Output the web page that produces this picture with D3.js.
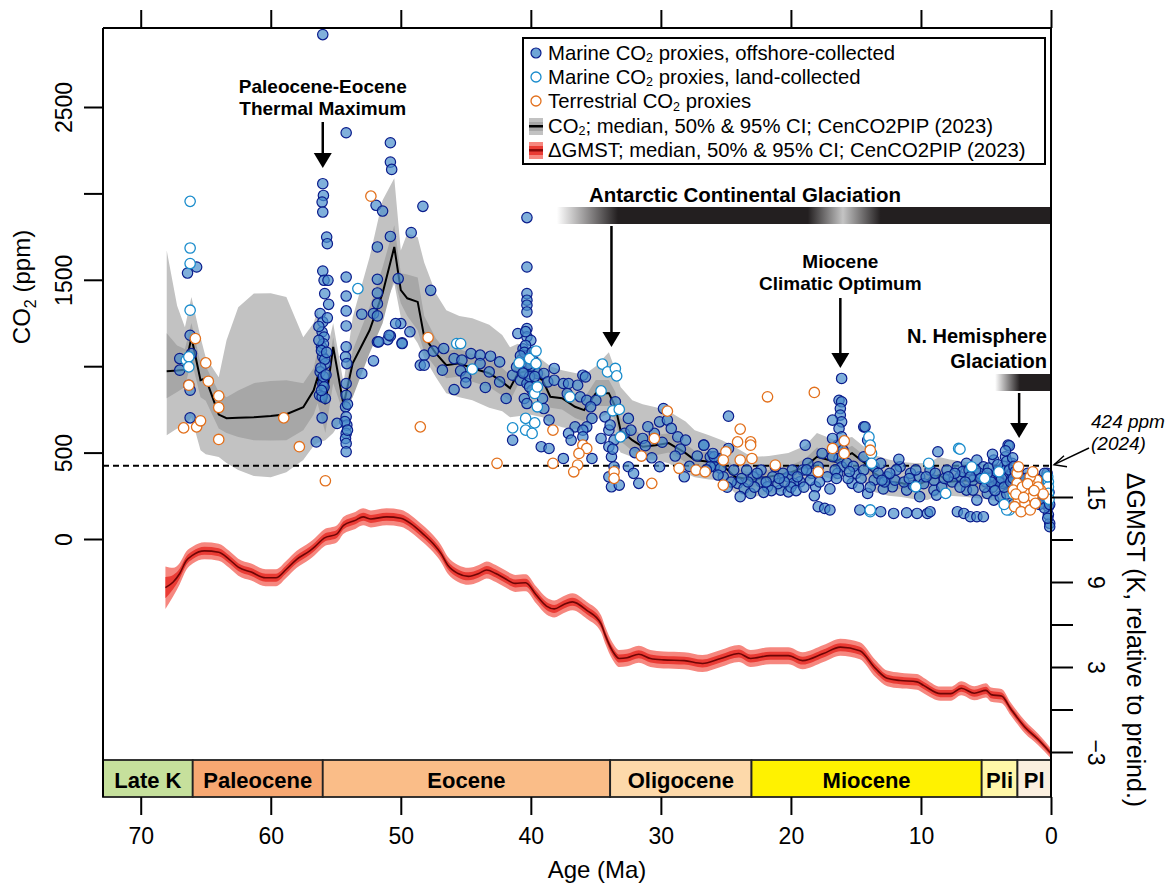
<!DOCTYPE html>
<html>
<head>
<meta charset="utf-8">
<script src="https://cdn.jsdelivr.net/npm/d3@7"></script>
<style>
  body { margin: 0; background: #fff; }
  text { font-family: "Liberation Sans", Arial, Helvetica, sans-serif; }
</style>
</head>
<body>
<script>
// CenCO2PIP CO2 curve: age (Ma), median and CI bounds (ppm)
const co2Age = [68.0,67.2,66.6,66.1,65.4,65.0,64.0,63.4,62.5,61.3,
    60.0,58.8,57.5,56.7,56.4,55.8,55.2,54.4,53.7,52.4,
    51.4,50.5,50.0,49.5,48.7,48.2,47.3,46.5,45.5,44.5,
    43.2,42.2,41.6,41.0,40.1,39.1,38.5,37.6,36.6,35.9,
    35.0,34.0,33.5,33.1,32.2,31.4,30.4,29.4,28.1,27.4,
    26.3,25.3,24.3,23.0,21.7,20.2,18.9,18.0,16.6,15.3,
    14.3,13.6,12.5,11.5,10.5,9.5,8.6,7.8,6.5,5.0,
    3.5,2.0,1.0,0.05];
const co2Med = [971,975,980,1168,919,930,720,699,702,705,
    712,722,763,861,936,780,1112,775,1017,1208,
    1422,1690,1440,1393,1372,1170,1074,1006,1017,988,
    959,909,873,959,977,919,823,815,765,746,
    844,844,765,630,572,534,543,555,497,457,
    447,430,360,341,360,380,418,476,447,497,
    439,381,331,324,302,341,370,331,340,330,
    300,270,260,280];
const co2Hi95 = [1670,1350,1225,1400,1168,1050,936,1150,1341,1420,
    1422,1400,1168,1250,1324,1052,1249,902,1283,1630,
    1960,2087,1670,1769,1746,1600,1420,1324,1290,1277,
    1240,1180,1110,1130,1100,1035,1000,977,960,950,
    1000,1081,977,880,803,780,763,740,680,630,
    600,572,532,474,480,497,540,613,572,590,
    530,486,460,445,440,439,474,460,445,430,
    410,390,380,400];
const co2Lo95 = [601,640,647,705,514,490,474,440,399,365,
    358,387,457,540,555,572,613,705,860,1092,
    1324,1480,1283,1226,1133,1050,936,844,820,803,
    760,740,705,710,720,705,670,647,635,630,
    690,728,555,500,474,460,457,439,380,358,
    345,341,266,243,260,283,320,370,341,387,
    320,272,250,243,230,225,254,250,243,230,
    215,200,195,197];
const co2Hi50 = [1190,1120,1100,1250,1017,1000,850,821,860,902,
    915,919,902,990,1092,902,1168,821,1092,1341,
    1572,1815,1538,1530,1514,1290,1160,1090,1100,1070,
    1040,990,950,1030,1050,990,890,880,830,815,
    920,920,850,700,640,600,605,610,550,510,
    500,490,410,380,400,420,465,530,490,540,
    480,420,365,360,335,380,410,365,375,365,
    335,305,295,315];
const co2Lo50 = [815,850,880,1035,821,800,640,613,590,572,
    570,572,630,720,786,613,902,728,821,1075,
    1249,1514,1364,1290,1208,1080,990,930,940,910,
    880,830,800,890,910,850,760,750,700,680,
    770,770,680,565,510,480,485,500,445,410,
    400,380,315,300,320,340,375,430,405,450,
    395,340,295,290,270,305,330,300,305,295,
    265,235,225,245];

// CenCO2PIP GMST curve: age (Ma), median (K) and CI half widths (K)
const gmstAge = [68.1,67.5,67.0,66.5,66.0,65.1,64.0,63.2,62.5,61.5,
    60.4,59.6,58.8,58.0,57.0,56.6,55.9,54.9,54.4,53.5,
    52.9,52.3,51.1,50.0,49.2,48.3,47.5,46.9,46.4,45.6,
    44.8,44.0,43.4,42.7,42.0,41.2,40.4,39.6,38.8,38.2,
    37.5,36.8,35.7,34.6,34.3,33.7,33.2,32.6,31.7,30.8,
    29.8,28.2,26.8,25.4,24.0,23.1,21.6,20.2,19.1,17.5,
    16.2,14.7,13.5,12.6,11.6,10.3,9.8,8.5,7.7,6.9,
    5.9,5.0,4.6,3.8,3.1,2.0,1.0,0.0];
const gmstMed = [8.6,9.0,9.6,10.5,10.9,11.2,11.1,10.6,10.05,9.7,
    9.3,9.3,9.9,10.6,11.2,11.5,12.1,12.4,13.0,13.35,
    13.6,13.45,13.6,13.5,13.1,12.4,11.7,11.0,10.2,9.6,
    9.4,9.6,9.85,9.6,9.25,8.9,8.95,8.1,7.3,7.1,
    7.4,7.6,7.0,6.05,5.3,4.1,3.6,3.65,3.9,3.6,
    3.5,3.45,3.25,3.6,3.95,3.6,3.8,3.8,3.45,3.95,
    4.4,4.15,2.9,2.2,2.05,1.95,1.7,1.12,1.12,1.5,
    1.15,1.35,1.05,0.95,0.05,-1.25,-2.1,-3.1];
const gmstCi95 = [1.5,1.0,0.75,0.65,0.6,0.6,0.6,0.6,0.6,0.6,
    0.6,0.6,0.6,0.6,0.6,0.6,0.6,0.6,0.6,0.6,
    0.6,0.6,0.6,0.6,0.6,0.6,0.6,0.6,0.6,0.6,
    0.6,0.6,0.6,0.6,0.6,0.6,0.6,0.6,0.6,0.6,
    0.6,0.6,0.6,0.6,0.6,0.6,0.6,0.6,0.6,0.6,
    0.6,0.6,0.6,0.6,0.6,0.6,0.6,0.6,0.6,0.6,
    0.6,0.6,0.6,0.55,0.55,0.55,0.55,0.5,0.5,0.5,
    0.5,0.5,0.5,0.5,0.45,0.45,0.4,0.35];
const gmstCi50 = [0.75,0.5,0.35,0.3,0.28,0.28,0.28,0.28,0.28,0.28,
    0.28,0.28,0.28,0.28,0.28,0.28,0.28,0.28,0.28,0.28,
    0.28,0.28,0.28,0.28,0.28,0.28,0.28,0.28,0.28,0.28,
    0.28,0.28,0.28,0.28,0.28,0.28,0.28,0.28,0.28,0.28,
    0.28,0.28,0.28,0.28,0.28,0.28,0.28,0.28,0.28,0.28,
    0.28,0.28,0.28,0.28,0.28,0.28,0.28,0.28,0.28,0.28,
    0.28,0.28,0.28,0.26,0.26,0.26,0.26,0.25,0.25,0.25,
    0.25,0.25,0.25,0.25,0.22,0.22,0.2,0.18];

// Proxy points: [age Ma, CO2 ppm]
const offshorePts = [
    [67.0,1044],[67.0,977],[66.4,1539],[65.7,1574],[66.2,1179],[66.1,1073],[66.3,890],[66.2,861],[66.2,701],
    [56.0,2919],[56.0,2056],[55.95,1988],[56.05,1950],[56.0,1892],[55.7,1747],[55.65,1709],[56.0,1551],[55.9,1497],
    [55.6,1497],[55.85,1420],[55.55,1358],[56.2,1305],[56.0,1256],[56.05,1198],[55.9,1169],[56.1,1112],[56.0,1054],
    [55.8,1015],[56.2,967],[56.0,900],[55.9,880],[56.25,832],[56.05,823],[55.8,813],[56.05,701],[56.5,562],
    [55.95,1130],[56.1,1090],[55.85,1040],[56.15,990],[55.95,940],[56.1,860],[55.75,950],[55.7,1080],[56.3,1150],
    [56.3,1230],[55.65,1280],
    [54.2,2351],[54.2,1516],[54.2,1406],[54.2,1320],[54.2,1233],[54.2,1112],[54.25,1054],[54.15,1015],[54.2,900],
    [54.2,832],[54.25,765],[54.2,707],[54.15,659],[54.2,611],[54.25,582],[54.2,553],[54.2,505],[54.1,780],[54.3,680],
    [54.1,630],[54.9,669],
    [53.0,1301],[52.1,1305],[51.8,1291],[51.8,1141],[51.0,1154],[50.8,1175],[50.0,1247],[49.3,1199],[49.9,1135],
    [53.0,958],[52.1,1031],[50.2,1507],[49.2,1773],[51.8,1690],[51.8,1503],[51.8,1424],[51.8,1362],[51.9,1931],
    [51.4,1898],[50.8,1751],[50.8,2181],[50.8,2293],[50.7,2139],[48.3,1925],[48.5,1006],[47.7,1439],[50.9,1179],
    [51.7,1141],[50.4,1247],
    [40.3,1860],[40.3,1574],[40.3,1420],[40.3,1382],[40.3,1353],[40.3,1314],[40.3,1218],[40.3,1170],[41.0,1189],
    [40.0,1150],[49.9,1131],[48.2,1064],[48.2,1006],[47.5,1087],[46.7,1102],[45.9,1044],[46.8,977],[45.3,1035],
    [45.4,973],[45.0,938],[45.0,904],[45.9,865],[44.6,1073],[43.9,1064],[43.9,1015],[43.1,1058],[43.2,967],
    [42.4,1025],[43.5,877],[42.4,909],[41.9,813],[41.4,948],[41.1,996],[40.8,919],[40.5,967],[40.3,900],[40.5,813],
    [40.3,784],[39.9,861],[39.5,958],[39.0,958],[38.7,909],[38.2,987],[38.2,919],[39.1,813],[39.0,755],[38.6,688],
    [39.2,534],[38.6,524],[41.4,572],[37.5,900],[37.1,900],[37.2,842],[36.4,890],[36.0,948],[35.8,938],[36.2,823],
    [35.7,803],[35.0,803],[35.4,765],[35.3,698],[35.7,649],[36.6,649],[37.1,611],[36.0,630],[36.9,572],[36.0,591],
    [37.5,466],[35.3,466],[40.6,1100],[40.2,1060],[40.0,1000],[40.7,1040],[40.1,940],[40.4,1120],[39.8,1030],
    [40.5,1080],[40.2,1010],[39.9,1080],[40.6,960],[40.1,880],[39.7,940],[40.4,1200],[40.8,1060],
    [33.5,794],[34.3,707],[34.6,582],[34.0,630],[33.6,572],[34.0,534],[33.8,476],[33.6,418],[34.0,360],[33.8,302],
    [33.2,312],[32.8,611],[32.3,630],[32.5,698],[32.5,418],[32.1,380],[31.7,322],[31.4,582],[30.5,611],[30.1,678],
    [29.8,755],[29.5,688],[28.7,591],[28.1,572],[30.1,418],[28.2,360],[26.7,543],[26.2,476],[25.8,438],[25.5,466],
    [25.9,418],[33.9,660],[33.7,520],
    [16.1,929],[16.3,803],[16.1,794],[16.2,755],[16.2,717],[16.1,678],[16.3,640],[16.1,591],[16.4,543],[16.0,514],
    [16.3,466],[16.1,418],[16.4,380],[15.7,438],[16.8,582],[16.8,476],[24.8,711],[26.7,543],[25.9,476],[26.2,418],
    [25.4,409],[24.8,524],[25.2,360],[24.1,322],[23.6,293],[23.1,264],[23.9,245],[22.9,360],[22.3,331],[21.8,302],
    [21.4,360],[20.8,283],[20.2,360],[19.9,399],[20.2,273],[19.3,331],[18.7,438],[18.9,543],[18.4,380],[18.1,302],
    [17.9,418],[17.6,495],[17.9,187],[17.4,177],[17.0,168],[15.0,380],[15.3,322],[14.4,649],[14.1,572],[14.4,476],
    [13.6,418],[13.1,438],[13.6,341],[14.1,264],[12.6,360],[11.6,418],[10.8,380],[10.1,360],[9.3,399],[8.7,505],
    [8.0,399],[12.2,302],[11.1,283],[10.1,245],[9.0,283],[8.8,254],[14.7,168],[13.1,158],[12.1,148],[11.1,152],
    [10.3,148],[9.5,148],[9.3,158],[7.2,158],[6.7,148],[6.2,129],[5.7,129],[5.2,129],[7.2,418],[7.0,360],
    [6.5,438],[5.7,457],[5.2,418],[4.7,360],[4.4,457],[3.9,399],[3.7,322],[3.3,543],[3.5,476],[3.0,438],
    [2.8,302],[2.5,245],[6.5,283],[6.0,283],[5.7,225],[4.9,264],[4.4,225],[3.9,245],[0.3,380],[0.3,283],
    [0.2,187],[0.1,91],[0.6,206],[0.8,322],[1.0,245],[1.9,302],[1.6,206],[14.4,399],[16.8,688],[26.0,495],
    [24.4,399],[23.4,399],[22.3,399],[21.2,418],[20.6,380],[19.8,322],[19.1,399],[3.2,539],[14.3,649],[11.7,461],
    [0.5,380],[0.1,71],
    [22.8,300],[21.0,320],[20.0,300],[19.5,360],[18.5,340],[17.2,360],[16.6,400],[15.6,350],[14.8,300],[13.9,300],
    [12.9,290],[12.0,340],[11.3,330],[10.6,310],[9.8,320],[9.0,340],[8.4,300],[7.6,330],[7.0,300],[6.8,390],
    [6.0,340],[5.5,380],[5.0,330],[4.5,300],[4.2,390],[3.6,420],[3.3,360],[3.0,380],[2.7,350],[2.2,330],
    [1.8,380],[1.3,300],[1.2,350],[0.7,260],[0.4,240],[0.2,140],[0.9,200],[2.9,200],[3.4,260],[4.0,330],
    [4.8,410],[6.3,400],[7.4,380],[8.2,350],[9.6,360],[10.4,400],[11.9,400],[12.8,330],[13.3,380],[15.2,420],
    [16.5,350],[17.8,330],[18.8,400],[19.6,280],[20.5,330],[21.5,280],[22.1,270],[23.3,330],[24.6,330],[25.6,370],
    [26.5,400],[27.2,480],[27.8,420],[28.5,520],[29.2,640],[30.7,470],[31.2,540],[32.0,500],[31.0,650],[29.9,560],
    [28.9,480],
    [5.8,400],[5.4,350],[5.1,300],[4.9,380],[4.6,330],[4.3,280],[4.1,430],[3.8,350],[3.6,300],[3.4,450],
    [3.2,400],[3.1,330],[2.95,470],[2.85,420],[2.75,390],[2.6,300],[2.4,360],[2.3,270],[2.1,300],[1.95,350],
    [1.7,290],[1.5,330],[1.4,250],[1.1,290],[0.95,340],[0.8,230],[0.6,310],[0.5,180],[0.35,330],[0.25,120],
    [0.15,270],[0.1,200],[6.2,360],[6.6,330],[7.9,360],[8.9,380],[10.9,350],[12.4,380],[13.0,340],[14.6,350],
    [15.5,390],[17.0,290],[18.2,250],[19.0,300],[20.9,350],[21.9,330],[22.6,380],[23.8,350],[24.9,300],[4.5,490],
    [3.5,510],[2.9,350]
];
const landPts = [
    [66.2,1954],[66.2,1684],[66.2,1594],[66.2,1324],[66.5,1035],[66.3,1054],[66.3,996],[53.3,1449],[45.7,1131],
    [45.4,1131],[44.5,983],[40.9,1019],[40.1,1044],[39.6,1088],[39.6,1015],[39.7,842],[39.5,880],[39.5,765],
    [40.4,698],[39.7,672],[41.4,643],[40.4,630],[39.9,611],[37.0,823],[34.6,857],[34.5,1012],[34.1,967],
    [33.5,987],[33.4,944],[33.7,742],[33.2,750],[33.1,591],[14.0,591],[13.9,543],[13.8,495],[13.8,438],
    [13.9,158],[9.4,438],[10.4,302],[8.1,264],[7.1,524],[6.1,418],[5.1,351],[4.0,389],[3.2,168],[0.2,331],
    [0.2,302],[0.2,264],[7.0,520],[13.9,168],[3.4,168],[0.15,230],[0.25,360],[3.6,200],[2.9,260]
];
const terrestrialPts = [
    [65.8,1160],[65.0,1019],[64.8,913],[64.0,828],[64.0,761],[66.3,890],[66.7,643],[65.7,649],[65.4,684],
    [64.0,576],[59.0,701],[57.8,534],[55.8,337],[52.3,1984],[48.5,649],[47.9,1166],[38.3,630],[36.0,543],
    [35.7,524],[36.3,495],[36.4,428],[36.7,389],[38.3,438],[42.6,438],[33.6,389],[33.6,351],[30.7,322],
    [31.5,480],[30.5,582],[29.5,740],[28.6,409],[27.3,399],[26.6,389],[21.8,823],[18.2,848],[23.9,636],
    [24.1,562],[23.1,562],[23.1,543],[25.0,505],[25.2,457],[23.9,457],[23.0,466],[25.2,312],[21.2,428],
    [17.9,389],[16.8,524],[15.9,568],[15.9,495],[13.9,514],[2.6,380],[1.1,341],[2.4,283],[1.9,264],
    [1.4,302],[2.5,225],[2.0,206],[1.4,245],[2.6,322],[1.6,360],[0.8,283],[2.8,187],[2.3,158],[1.6,168],
    [2.9,283],[1.2,206],[1.4,389],[2.5,418],[2.2,300],[1.8,320],[1.0,300],[2.7,260],[0.6,260],[2.1,240],[1.3,280]
];

// Geologic epochs
const epochNames = ["Late K","Paleocene","Eocene","Oligocene","Miocene","Pli","Pl"];
const epochStart = [72.9,66.0,56.0,33.9,23.03,5.33,2.58];
const epochEnd = [66.0,56.0,33.9,23.03,5.33,2.58,0];
const epochColors = ["#c6e09c","#f7a872","#fabd88","#fdd9aa","#fff200","#fff7a8","#fbefdf"];

// Axis ticks
const ageTicks = [70,60,50,40,30,20,10,0];
const co2Ticks = [0,500,1000,1500,2000,2500];
const co2Labels = [0,500,1500,2500];
const tTicks = [-3,0,3,6,9,12,15];
const tLabels = [-3,3,9,15];
const presentCO2 = 424;

const width = 1174, height = 885;
const svg = d3.select("body").append("svg")
    .attr("width", width)
    .attr("height", height)
    .style("background", "#fff");

// Scales
const xScale = d3.scaleLinear().domain([72.9, 0]).range([103, 1051]);
const yCO2 = d3.scaleLinear().domain([0, 2500]).range([539, 107]);
const yT = d3.scaleLinear().domain([-3, 15]).range([752, 497]);

const co2Rows = co2Age.map((a, i) => ({age: a, med: co2Med[i], lo95: co2Lo95[i], hi95: co2Hi95[i], lo50: co2Lo50[i], hi50: co2Hi50[i]}));
const gmstRows = gmstAge.map((a, i) => ({age: a, med: gmstMed[i], c95: gmstCi95[i], c50: gmstCi50[i]}));

// CO2 bands + median
svg.append("path").datum(co2Rows)
    .attr("fill", "#c2c2c2")
    .attr("d", d3.area().x(d => xScale(d.age)).y0(d => yCO2(d.lo95)).y1(d => yCO2(d.hi95)));
svg.append("path").datum(co2Rows)
    .attr("fill", "#a7a7a7")
    .attr("d", d3.area().x(d => xScale(d.age)).y0(d => yCO2(d.lo50)).y1(d => yCO2(d.hi50)));
svg.append("path").datum(co2Rows)
    .attr("fill", "none").attr("stroke", "#000").attr("stroke-width", 2)
    .attr("d", d3.line().x(d => xScale(d.age)).y(d => yCO2(d.med)));

// GMST bands + median
svg.append("path").datum(gmstRows)
    .attr("fill", "#f6877f")
    .attr("d", d3.area().curve(d3.curveMonotoneX).x(d => xScale(d.age)).y0(d => yT(d.med - d.c95)).y1(d => yT(d.med + d.c95)));
svg.append("path").datum(gmstRows)
    .attr("fill", "#ea3b34")
    .attr("d", d3.area().curve(d3.curveMonotoneX).x(d => xScale(d.age)).y0(d => yT(d.med - d.c50)).y1(d => yT(d.med + d.c50)));
svg.append("path").datum(gmstRows)
    .attr("fill", "none").attr("stroke", "#6e0505").attr("stroke-width", 1.6)
    .attr("d", d3.line().curve(d3.curveMonotoneX).x(d => xScale(d.age)).y(d => yT(d.med)));

// 424 ppm dashed line
svg.append("line")
    .attr("x1", xScale.range()[0]).attr("x2", xScale(0))
    .attr("y1", yCO2(presentCO2)).attr("y2", yCO2(presentCO2))
    .attr("stroke", "#000").attr("stroke-width", 2).attr("stroke-dasharray", "6,4");

// Proxy points
const dots = svg.append("g");
dots.selectAll(".off").data(offshorePts).join("circle")
    .attr("class", "off")
    .attr("cx", d => xScale(d[0])).attr("cy", d => yCO2(d[1])).attr("r", 5.2)
    .attr("fill", "#4a8fcc").attr("fill-opacity", 0.7)
    .attr("stroke", "#0a1c8c").attr("stroke-width", 1.2);
dots.selectAll(".land").data(landPts).join("circle")
    .attr("class", "land")
    .attr("cx", d => xScale(d[0])).attr("cy", d => yCO2(d[1])).attr("r", 5.2)
    .attr("fill", "#fff").attr("stroke", "#1a8ccc").attr("stroke-width", 1.3);
dots.selectAll(".terr").data(terrestrialPts).join("circle")
    .attr("class", "terr")
    .attr("cx", d => xScale(d[0])).attr("cy", d => yCO2(d[1])).attr("r", 5.2)
    .attr("fill", "#fff").attr("stroke", "#e2701c").attr("stroke-width", 1.3);

// Glaciation bars with gradients
const defs = svg.append("defs");
function glacBar(id, ages, colors, y, h) {
    const x0 = xScale(ages[0]), x1 = xScale(0);
    const grad = defs.append("linearGradient").attr("id", id)
        .attr("gradientUnits", "userSpaceOnUse")
        .attr("x1", x0).attr("x2", x1).attr("y1", 0).attr("y2", 0);
    ages.forEach((a, i) => {
        grad.append("stop").attr("offset", (xScale(a) - x0) / (x1 - x0)).attr("stop-color", colors[i]);
    });
    svg.append("rect").attr("x", x0).attr("y", y).attr("width", x1 - x0).attr("height", h)
        .attr("fill", `url(#${id})`);
}
glacBar("antGrad", [38.0, 33.3, 18.7, 16.0, 13.1, 0], ["#ffffff", "#231f20", "#231f20", "#c4c4c4", "#231f20", "#231f20"], 207, 17);
glacBar("nhgGrad", [4.3, 2.4, 0], ["#ffffff", "#231f20", "#231f20"], 374, 17);

// Arrows
function arrow(age, yTop, yTip) {
    const x = xScale(age);
    svg.append("line").attr("x1", x).attr("x2", x).attr("y1", yTop).attr("y2", yTip - 12)
        .attr("stroke", "#000").attr("stroke-width", 2.5);
    svg.append("path").attr("d", `M${x - 9},${yTip - 15}L${x + 9},${yTip - 15}L${x},${yTip}Z`).attr("fill", "#000");
}
arrow(56.0, 122, 168);
arrow(33.8, 226, 347);
arrow(16.2, 298, 368);
arrow(2.45, 393, 438);

// Annotation labels
function label(txt, x, y, anchor, size) {
    svg.append("text").attr("x", x).attr("y", y).attr("text-anchor", anchor || "middle")
        .attr("font-size", size || 19).attr("font-weight", "bold").text(txt);
}
label("Paleocene-Eocene", xScale(56.0), 93);
label("Thermal Maximum", xScale(56.0), 115);
label("Antarctic Continental Glaciation", 745, 202, "middle", 20.5);
label("Miocene", xScale(16.2), 268);
label("Climatic Optimum", xScale(16.2), 290);
label("N. Hemisphere", 1047, 343, "end", 20);
label("Glaciation", 1047, 368, "end", 20);

svg.append("text").attr("x", 1091).attr("y", 428).attr("font-size", 19).attr("font-style", "italic").text("424 ppm");
svg.append("text").attr("x", 1091).attr("y", 450).attr("font-size", 19).attr("font-style", "italic").text("(2024)");
const tipX = xScale(0) + 3, tipY = yCO2(presentCO2) - 1;
svg.append("line").attr("x1", 1089).attr("y1", 448).attr("x2", tipX).attr("y2", tipY)
    .attr("stroke", "#000").attr("stroke-width", 1.4);
svg.append("path").attr("d", `M${tipX + 10},${tipY - 9}L${tipX},${tipY}L${tipX + 13},${tipY + 2}`)
    .attr("fill", "none").attr("stroke", "#000").attr("stroke-width", 1.4);

// Legend
const legend = svg.append("g");
legend.append("rect").attr("x", 523).attr("y", 38).attr("width", 522).attr("height", 126)
    .attr("fill", "#fff").attr("stroke", "#000").attr("stroke-width", 2);
const legY = [53, 77, 101, 126, 150];
legend.append("circle").attr("cx", 536).attr("cy", legY[0]).attr("r", 5)
    .attr("fill", "#4a8fcc").attr("fill-opacity", 0.8).attr("stroke", "#0a1c8c").attr("stroke-width", 1.2);
legend.append("circle").attr("cx", 536).attr("cy", legY[1]).attr("r", 5)
    .attr("fill", "#fff").attr("stroke", "#1a8ccc").attr("stroke-width", 1.3);
legend.append("circle").attr("cx", 536).attr("cy", legY[2]).attr("r", 5)
    .attr("fill", "#fff").attr("stroke", "#e2701c").attr("stroke-width", 1.3);
legend.append("rect").attr("x", 529).attr("y", legY[3] - 8).attr("width", 14).attr("height", 17).attr("fill", "#c2c2c2");
legend.append("rect").attr("x", 529).attr("y", legY[3] - 4).attr("width", 14).attr("height", 9).attr("fill", "#a7a7a7");
legend.append("rect").attr("x", 529).attr("y", legY[3] - 1).attr("width", 14).attr("height", 2.5).attr("fill", "#000");
legend.append("rect").attr("x", 529).attr("y", legY[4] - 8).attr("width", 14).attr("height", 17).attr("fill", "#f6877f");
legend.append("rect").attr("x", 529).attr("y", legY[4] - 4).attr("width", 14).attr("height", 9).attr("fill", "#ea3b34");
legend.append("rect").attr("x", 529).attr("y", legY[4] - 1).attr("width", 14).attr("height", 2.5).attr("fill", "#8a0a0a");

function subLabel(g, x, y, before, after, size) {
    const t = g.append("text").attr("x", x).attr("y", y).attr("font-size", size);
    t.append("tspan").text(before);
    t.append("tspan").attr("font-size", 12.5).attr("dy", 2.5).text("2");
    t.append("tspan").attr("dy", -2.5).text(after);
    return t;
}
const legSize = 20.3;
subLabel(legend, 548, 59.5, "Marine CO", " proxies, offshore-collected", legSize);
subLabel(legend, 548, 83.5, "Marine CO", " proxies, land-collected", legSize);
subLabel(legend, 548, 108, "Terrestrial CO", " proxies", legSize);
subLabel(legend, 548, 132.5, "CO", "; median, 50% & 95% CI; CenCO2PIP (2023)", legSize);
legend.append("text").attr("x", 548).attr("y", 157).attr("font-size", legSize)
    .text("\u0394GMST; median, 50% & 95% CI; CenCO2PIP (2023)");

// Epoch bar
const epochTop = 760, epochBot = 797;
const epochs = svg.append("g");
epochNames.forEach((name, i) => {
    const x0 = xScale(epochStart[i]), x1 = xScale(epochEnd[i]);
    epochs.append("rect").attr("x", x0).attr("y", epochTop).attr("width", x1 - x0).attr("height", epochBot - epochTop)
        .attr("fill", epochColors[i]).attr("stroke", "#222").attr("stroke-width", 1.8);
    epochs.append("text").attr("x", (x0 + x1) / 2).attr("y", 788).attr("text-anchor", "middle")
        .attr("font-size", 22).attr("font-weight", "bold").text(name);
});

// Frame lines
const frame = svg.append("g").attr("stroke", "#000").attr("stroke-width", 2);
frame.append("line").attr("x1", 103).attr("x2", 103).attr("y1", 28).attr("y2", epochBot);
frame.append("line").attr("x1", 103).attr("x2", xScale(0)).attr("y1", 28).attr("y2", 28);
frame.append("line").attr("x1", xScale(0)).attr("x2", xScale(0)).attr("y1", 28).attr("y2", epochBot);

// Axes
function styleAxis(g) {
    g.select(".domain").remove();
    g.selectAll("line").attr("stroke-width", 2);
    g.attr("font-size", 23).attr("font-family", "'Liberation Sans', Arial, sans-serif");
}
svg.append("g").attr("transform", "translate(0,28)")
    .call(d3.axisTop(xScale).tickValues(ageTicks).tickSize(18).tickFormat(""))
    .call(styleAxis);
svg.append("g").attr("transform", `translate(0,${epochBot})`)
    .call(d3.axisBottom(xScale).tickValues(ageTicks).tickSize(18).tickPadding(13))
    .call(styleAxis);

const leftAxis = svg.append("g").attr("transform", "translate(103,0)")
    .call(d3.axisLeft(yCO2).tickValues(co2Ticks).tickSize(19)
        .tickFormat(d => co2Labels.includes(d) ? d : ""))
    .call(styleAxis);
leftAxis.selectAll("text")
    .attr("transform", "rotate(-90)").attr("x", 0).attr("y", -31).attr("dy", 0)
    .attr("text-anchor", "middle");

const rightAxis = svg.append("g").attr("transform", `translate(${xScale(0)},0)`)
    .call(d3.axisRight(yT).tickValues(tTicks).tickSize(22)
        .tickFormat(d => tLabels.includes(d) ? d3.format("")(d) : ""))
    .call(styleAxis);
rightAxis.selectAll("text")
    .attr("transform", "rotate(90)").attr("x", 0).attr("y", -37).attr("dy", 0)
    .attr("text-anchor", "middle");

// Axis titles
svg.append("text").attr("x", 597).attr("y", 878)
    .attr("text-anchor", "middle").attr("font-size", 24).text("Age (Ma)");

const co2Title = svg.append("g").attr("transform", "translate(30,287) rotate(-90)")
    .append("text").attr("text-anchor", "middle").attr("font-size", 24);
co2Title.append("tspan").text("CO");
co2Title.append("tspan").attr("font-size", 16).attr("dy", 6).text("2");
co2Title.append("tspan").attr("dy", -6).text(" (ppm)");

svg.append("g").attr("transform", "translate(1127,640) rotate(90)")
    .append("text").attr("text-anchor", "middle").attr("font-size", 25)
    .text("\u0394GMST (K, relative to preind.)");
</script>
</body>
</html>
